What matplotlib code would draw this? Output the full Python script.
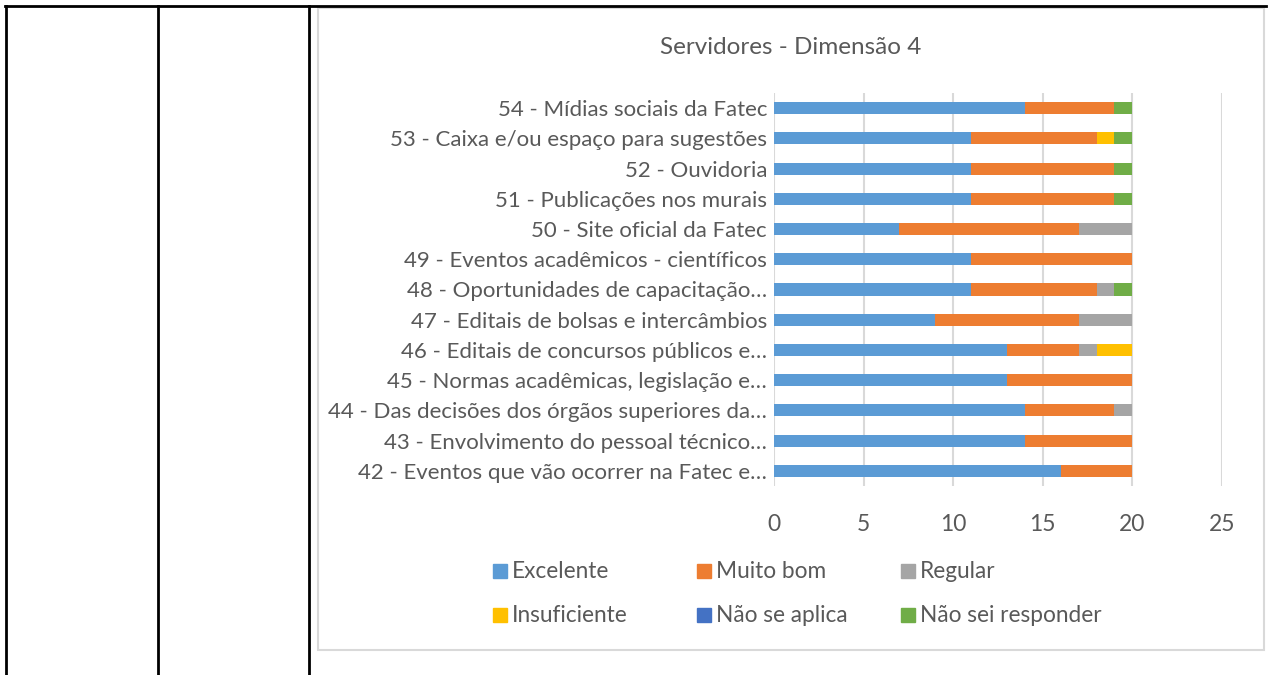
import matplotlib.pyplot as plt
from matplotlib.patches import Rectangle
from matplotlib.lines import Line2D

plt.rcParams['font.family'] = ['Lato', 'DejaVu Sans']

# items from bottom (42) to top (54)
items = [
    '42 - Eventos que vão ocorrer na Fatec e…',
    '43 - Envolvimento do pessoal técnico…',
    '44 - Das decisões dos órgãos superiores da…',
    '45 - Normas acadêmicas, legislação e…',
    '46 - Editais de concursos públicos e…',
    '47 - Editais de bolsas e intercâmbios',
    '48 - Oportunidades de capacitação…',
    '49 - Eventos acadêmicos - científicos',
    '50 - Site oficial da Fatec',
    '51 - Publicações nos murais',
    '52 - Ouvidoria',
    '53 - Caixa e/ou espaço para sugestões',
    '54 - Mídias sociais da Fatec',
]
excelente = [16, 14, 14, 13, 13, 9, 11, 11, 7, 11, 11, 11, 14]
muito_bom = [4, 6, 5, 7, 4, 8, 7, 9, 10, 8, 8, 7, 5]
regular = [0, 0, 1, 0, 1, 3, 1, 0, 3, 0, 0, 0, 0]
insuficiente = [0, 0, 0, 0, 2, 0, 0, 0, 0, 0, 0, 1, 0]
nao_se_aplica = [0] * 13
nao_sei = [0, 0, 0, 0, 0, 0, 1, 0, 0, 1, 1, 1, 1]

series = [
    ('Excelente', excelente, '#5B9BD5'),
    ('Muito bom', muito_bom, '#ED7D31'),
    ('Regular', regular, '#A5A5A5'),
    ('Insuficiente', insuficiente, '#FFC000'),
    ('Não se aplica', nao_se_aplica, '#4472C4'),
    ('Não sei responder', nao_sei, '#70AD47'),
]

W, H = 1270, 675
txt = '#595959'
grid = '#D9D9D9'


def fx(px):
    return px / W


def fy(py):
    return 1 - py / H


fig = plt.figure(figsize=(12.7, 6.75), dpi=100)

# table borders around the chart
for x in [6, 158, 309]:
    fig.add_artist(Line2D([fx(x), fx(x)], [fy(6), fy(675)], color='black', lw=2))
fig.add_artist(Line2D([fx(5), fx(1266)], [fy(6), fy(6)], color='black', lw=2))

# chart frame
fig.add_artist(Rectangle((fx(318), fy(650)), fx(1264) - fx(318), fy(8) - fy(650),
                         fill=False, edgecolor=grid, lw=1.5))

ax = fig.add_axes([fx(774), fy(486), fx(1222) - fx(774), fy(93) - fy(486)])

y = range(len(items))
left = [0] * len(items)
for name, vals, color in series:
    ax.barh(y, vals, left=left, height=0.4, color=color, label=name, zorder=3)
    left = [a + b for a, b in zip(left, vals)]

ax.set_xlim(0, 25)
ax.set_ylim(-0.5, len(items) - 0.5)
ax.set_xticks([0, 5, 10, 15, 20, 25])
ax.set_yticks(list(y))
ax.set_yticklabels(items)
ax.tick_params(axis='y', length=0, pad=5, labelsize=16, labelcolor=txt)
ax.tick_params(axis='x', length=0, pad=20, labelsize=16.5, labelcolor=txt)
ax.grid(axis='x', color=grid, lw=1.5, zorder=0)
for s in ax.spines.values():
    s.set_visible(False)

fig.text(fx(791), fy(47), 'Servidores - Dimensão 4', ha='center', va='center',
         fontsize=17.5, color=txt)

# legend, 3 columns x 2 rows
for i, (name, vals, color) in enumerate(series):
    col, row = i % 3, i // 3
    x0 = 493 + col * 204
    y0 = 571 + row * 44
    fig.add_artist(Rectangle((fx(x0), fy(y0 + 7)), fx(14), 14 / H, color=color))
    fig.text(fx(x0 + 19), fy(y0), name, ha='left', va='center', fontsize=16.3, color=txt)

fig.savefig('out.png', dpi=100)
